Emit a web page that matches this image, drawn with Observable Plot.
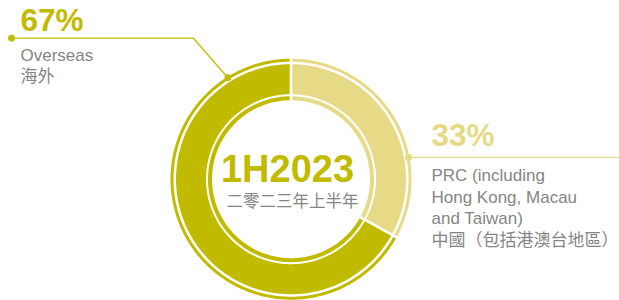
<!DOCTYPE html>
<html><head><meta charset="utf-8">
<script src="https://cdn.jsdelivr.net/npm/d3@7"></script>
<script src="https://cdn.jsdelivr.net/npm/@observablehq/plot@0.6"></script>
<style>body{margin:0;background:#fff;} #chart svg{display:block;}</style>
</head><body><div id="chart"></div>
<script>
// ---- data ----
const categories = ["PRC (including Hong Kong, Macau and Taiwan)", "Overseas"];
const shares = [33, 67];
const shareLabels = ["33%", "67%"];
const labelLinesEn = [["PRC (including", "Hong Kong, Macau", "and Taiwan)"], ["Overseas"]];
const labelZh = ["中國（包括港澳台地區）", "海外"];
const centerTitle = "1H2023";
const centerSubtitle = "二零二三年上半年";
const colors = ["#e6da86", "#c1bb00"];

// ---- layout ----
const W = 619, H = 300;
const cx = 290.5, cy = 178.7;
const rings = [[79, 83], [85, 115], [117.5, 120.5]];
const gap = 2.6;
const FONT = "'Liberation Sans', Arial, 'Noto Sans CJK TC', sans-serif";
const GRAY = "#858585";

const pie = d3.pie().sort(null).value(d => d)(shares);
const polar = (r, a) => [cx + r * Math.sin(a), cy - r * Math.cos(a)];

const polys = [];
pie.forEach((s, i) => {
  rings.forEach(([r0, r1], j) => {
    const key = i + "-" + j;
    const a0o = s.startAngle + gap / 2 / r1, a1o = s.endAngle - gap / 2 / r1;
    const a0i = s.startAngle + gap / 2 / r0, a1i = s.endAngle - gap / 2 / r0;
    const n = Math.max(2, Math.ceil((a1o - a0o) * 180 / Math.PI));
    for (let k = 0; k <= n; k++) {
      const [x, y] = polar(r1, a0o + (a1o - a0o) * k / n);
      polys.push({key, x, y, color: colors[i]});
    }
    for (let k = n; k >= 0; k--) {
      const [x, y] = polar(r0, a0i + (a1i - a0i) * k / n);
      polys.push({key, x, y, color: colors[i]});
    }
  });
});

// leader lines (anchor on outer ring)
const anchorAngles = [79.5, -31.9].map(d => d * Math.PI / 180);
const rAnchor = 119.5;
const aPRC = polar(rAnchor, anchorAngles[0]);
const aOv = polar(rAnchor, anchorAngles[1]);
const leaders = [
  {key: "prc", x: aPRC[0], y: aPRC[1], color: colors[0]},
  {key: "prc", x: W, y: aPRC[1], color: colors[0]},
  {key: "ov", x: aOv[0], y: aOv[1], color: colors[1]},
  {key: "ov", x: 193, y: 37.7, color: colors[1]},
  {key: "ov", x: 11, y: 37.7, color: colors[1]}
];
const dots = [
  {x: aPRC[0], y: aPRC[1], color: colors[0]},
  {x: aOv[0], y: aOv[1], color: colors[1]},
  {x: 11, y: 37.7, color: colors[1]}
];

// labels
const pctText = [
  {x: 431, y: 145, text: shareLabels[0], color: colors[0]},
  {x: 20, y: 30, text: shareLabels[1], color: colors[1]}
];
const bodyText = [];
labelLinesEn[0].forEach((t, k) => bodyText.push({x: 431, y: 180.7 + k * 21.3, text: t}));
bodyText.push({x: 431, y: 245, text: labelZh[0]});
labelLinesEn[1].forEach((t, k) => bodyText.push({x: 20, y: 60.5 + k * 21, text: t}));
bodyText.push({x: 20, y: 81.5, text: labelZh[1]});

const chart = Plot.plot({
  width: W, height: H,
  margin: 0,
  x: {domain: [0, W], range: [0, W], axis: null},
  y: {domain: [0, H], range: [0, H], axis: null},
  color: {type: "identity"},
  style: {fontFamily: FONT, background: "#fff"},
  marks: [
    Plot.line(polys, {x: "x", y: "y", z: "key", fill: "color", stroke: "none", curve: "linear"}),
    Plot.line(leaders, {x: "x", y: "y", z: "key", stroke: "color", strokeWidth: 1.3}),
    Plot.dot(dots, {x: "x", y: "y", r: 3.4, fill: "color", stroke: "none"}),
    Plot.text(pctText, {x: "x", y: "y", text: "text", fill: "color", fontSize: 31.5, fontWeight: "bold", textAnchor: "start", lineAnchor: "bottom", fontFamily: FONT}),
    Plot.text(bodyText, {x: "x", y: "y", text: "text", fill: GRAY, fontSize: 17, textAnchor: "start", lineAnchor: "bottom", fontFamily: FONT}),
    Plot.text([centerTitle], {x: () => 287, y: () => 181.5, text: d => d, fill: colors[1], fontSize: 38, fontWeight: "bold", textAnchor: "middle", lineAnchor: "bottom", fontFamily: FONT}),
    Plot.text([centerSubtitle], {x: () => 292, y: () => 206, text: d => d, fill: GRAY, fontSize: 16.5, textAnchor: "middle", lineAnchor: "bottom", fontFamily: FONT})
  ]
});
document.getElementById("chart").appendChild(chart);
</script>
</body></html>
